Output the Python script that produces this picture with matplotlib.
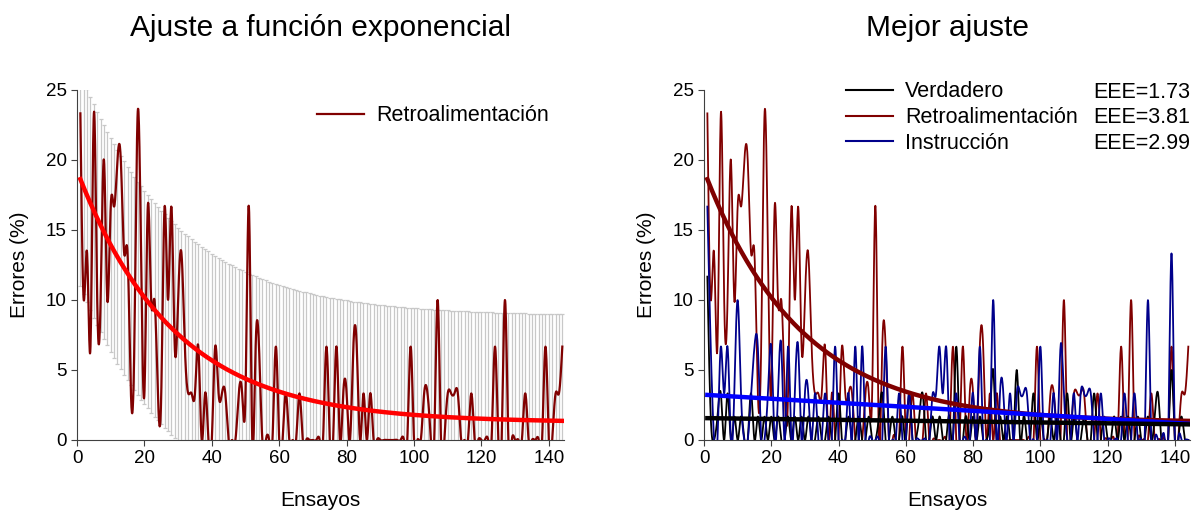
import numpy as np
import matplotlib
matplotlib.use("Agg")
import matplotlib.pyplot as plt
from matplotlib.lines import Line2D

plt.rcParams['font.family'] = ['Liberation Sans', 'DejaVu Sans']

# ensayos 1..144
trials = np.arange(1, 145)

# errores (%) por ensayo
retro = [23.33, 10, 13.33, 6.67, 23.33, 10, 10, 20, 10, 16.67,
         16.67, 20, 20, 13.33, 13.33, 3.33, 6.67, 23.33, 13.33, 3.33,
         16.67, 10, 10, 3.33, 3.33, 16.67, 10, 16.67, 6.67, 10,
         13.33, 6.67, 3.33, 3.33, 3.33, 6.67, 0, 3.33, 0, 0,
         6.67, 3.33, 3.33, 3.33, 0, 0, 0, 3.33, 3.33, 3.33,
         16.67, 0, 6.67, 6.67, 0, 0, 0, 0, 6.67, 0,
         0, 3.33, 0, 0, 0, 3.33, 0, 0, 0, 0,
         0, 0, 0, 6.67, 0, 0, 6.67, 0, 3.33, 3.33,
         0, 6.67, 6.67, 0, 3.33, 0, 3.33, 0, 0, 0,
         0, 0, 0, 0, 0, 0, 0, 0, 6.67, 0,
         0, 0, 3.33, 3.33, 0, 0, 10, 0, 0, 3.33,
         3.33, 3.33, 3.33, 0, 0, 0, 3.33, 0, 0, 0,
         0, 0, 0, 6.67, 0, 0, 10, 0, 0, 0,
         0, 0, 3.33, 0, 0, 0, 0, 0, 6.67, 0,
         0, 3.33, 3.33, 6.67]

instruccion = [16.67, 6.67, 0, 0, 6.67, 3.33, 6.67, 0, 3.33, 10,
               3.33, 0, 0, 3.33, 6.67, 6.67, 0, 0, 3.33, 6.67,
               0, 3.33, 6.67, 0, 6.67, 0, 3.33, 6.67, 0, 3.33,
               3.33, 0, 3.33, 0, 0, 3.33, 0, 0, 6.67, 0,
               0, 0, 3.33, 0, 6.67, 0, 6.67, 0, 0, 0,
               0, 0, 0, 6.67, 0, 0, 0, 3.33, 0, 0,
               3.33, 0, 0, 0, 0, 0, 0, 3.33, 3.33, 6.67,
               3.33, 6.67, 0, 0, 3.33, 0, 0, 0, 0, 3.33,
               0, 6.67, 0, 0, 0, 10, 0, 3.33, 3.33, 0,
               3.33, 0, 3.33, 3.33, 3.33, 3.33, 0, 0, 0, 6.67,
               0, 0, 0, 3.33, 0, 6.67, 3.33, 0, 0, 3.33,
               0, 3.33, 3.33, 3.33, 3.33, 0, 0, 3.33, 0, 0,
               0, 0, 0, 0, 3.33, 0, 0, 3.33, 0, 0,
               0, 10, 0, 0, 0, 0, 0, 0, 13.33, 0,
               0, 0, 0, 0]

verdadero = [11.67, 1.67, 0, 1.67, 3.33, 0, 3.33, 0, 1.67, 0,
             1.67, 0, 0, 3.33, 0, 1.67, 0, 1.67, 0, 1.67,
             0, 1.67, 0, 0, 1.67, 0, 1.67, 0, 1.67, 0,
             1.67, 0, 0, 1.67, 0, 0, 1.67, 0, 0, 3.33,
             0, 0, 1.67, 0, 0, 1.67, 0, 0, 1.67, 0,
             0, 1.67, 3.33, 0, 0, 1.67, 0, 0, 1.67, 0,
             3.33, 0, 0, 1.67, 3.33, 0, 0, 1.67, 0, 1.67,
             0, 0, 1.67, 0, 6.67, 0, 0, 1.67, 0, 1.67,
             0, 1.67, 0, 0, 1.67, 5, 0, 1.67, 0, 1.67,
             0, 0, 5, 0, 1.67, 0, 0, 3.33, 0, 1.67,
             0, 0, 1.67, 0, 1.67, 0, 0, 3.33, 0, 1.67,
             0, 0, 1.67, 0, 0, 3.33, 0, 0, 1.67, 0,
             0, 1.67, 0, 1.67, 0, 1.67, 0, 0, 1.67, 0,
             0, 1.67, 0, 1.67, 3.33, 0, 0, 0, 5, 0,
             0, 1.67, 0, 0]

# parametros de ajuste
exp_a, exp_b, exp_c = 18.0, 0.035, 1.25      # retro: a*exp(-b*x)+c
instr_int, instr_slope = 3.22, -0.0144       # instruccion: lineal
verd_int, verd_slope = 1.56, -0.0031         # verdadero: lineal
eee = {'Verdadero': 1.73, 'Retroalimentación': 3.81, 'Instrucción': 2.99}


def natural_spline(x, y, xs):
    x = np.asarray(x, float)
    y = np.asarray(y, float)
    n = len(x)
    h = np.diff(x)
    A = np.zeros((n, n))
    r = np.zeros(n)
    A[0, 0] = 1
    A[-1, -1] = 1
    for i in range(1, n - 1):
        A[i, i - 1] = h[i - 1]
        A[i, i] = 2 * (h[i - 1] + h[i])
        A[i, i + 1] = h[i]
        r[i] = 3 * ((y[i + 1] - y[i]) / h[i] - (y[i] - y[i - 1]) / h[i - 1])
    c = np.linalg.solve(A, r)
    b = (y[1:] - y[:-1]) / h - h * (2 * c[:-1] + c[1:]) / 3
    d = (c[1:] - c[:-1]) / (3 * h)
    idx = np.clip(np.searchsorted(x, xs) - 1, 0, n - 2)
    dx = xs - x[idx]
    return y[idx] + b[idx] * dx + c[idx] * dx ** 2 + d[idx] * dx ** 3


xs = np.linspace(1, 144, 2000)
retro_s = natural_spline(trials, retro, xs)
instr_s = natural_spline(trials, instruccion, xs)
verd_s = natural_spline(trials, verdadero, xs)

fit_exp = exp_a * np.exp(-exp_b * xs) + exp_c
fit_exp_pts = exp_a * np.exp(-exp_b * trials) + exp_c
fit_instr = instr_int + instr_slope * (xs - 1)
fit_verd = verd_int + verd_slope * (xs - 1)

W, H = 1198, 515
fig = plt.figure(figsize=(W / 100, H / 100), dpi=100)
ax1 = fig.add_axes([77 / W, 75 / H, 487 / W, 350 / H])
ax2 = fig.add_axes([704 / W, 75 / H, 486 / W, 350 / H])

DARKRED = '#800000'
FS_LEG = 15.5

# panel izquierdo
ax1.errorbar(trials, fit_exp_pts, yerr=2 * eee['Retroalimentación'], fmt='none',
             ecolor='#c8c8c8', elinewidth=0.9, capsize=1.5, capthick=0.9, zorder=1)
ax1.plot(xs, retro_s, color=DARKRED, lw=1.6, zorder=3, label='Retroalimentación')
ax1.plot(xs, fit_exp, color='#ff0000', lw=3.2, zorder=4)
ax1.legend(loc='upper right', bbox_to_anchor=(1.0, 1.0), frameon=False,
           fontsize=FS_LEG, handlelength=2.2, handletextpad=0.55, borderaxespad=0.3)
ax1.set_title('Ajuste a función exponencial', fontsize=21.5, pad=39)

# panel derecho
ax2.plot(xs, verd_s, color='black', lw=1.3, zorder=3)
ax2.plot(xs, retro_s, color=DARKRED, lw=1.3, zorder=2)
ax2.plot(xs, instr_s, color='#00008b', lw=1.3, zorder=3)
ax2.plot(xs, fit_exp, color=DARKRED, lw=3.2, zorder=4)
ax2.plot(xs, fit_instr, color='#0000ff', lw=3.2, zorder=5)
ax2.plot(xs, fit_verd, color='black', lw=3.2, zorder=5)
handles = [Line2D([], [], color='black', lw=1.5),
           Line2D([], [], color=DARKRED, lw=1.5),
           Line2D([], [], color='#00008b', lw=1.5)]
ax2.legend(handles, list(eee.keys()), loc='upper left', bbox_to_anchor=(0.274, 1.05),
           frameon=False, fontsize=FS_LEG, handlelength=2.2, handletextpad=0.55,
           labelspacing=0.23, borderaxespad=0)
for k, (name, v) in enumerate(eee.items()):
    ax2.text(1.0, 0.994 - k * 0.074, 'EEE=%.2f' % v, transform=ax2.transAxes,
             ha='right', va='center', fontsize=FS_LEG)
ax2.set_title('Mejor ajuste', fontsize=21.5, pad=39)

for ax in (ax1, ax2):
    ax.set_xlim(0, 144.5)
    ax.set_ylim(0, 25)
    ax.set_xticks(range(0, 141, 20))
    ax.set_yticks(range(0, 26, 5))
    ax.spines['top'].set_visible(False)
    ax.spines['right'].set_visible(False)
    for s in ('left', 'bottom'):
        ax.spines[s].set_color('#404040')
    ax.tick_params(direction='out', length=4, labelsize=13.5, color='#404040')
    ax.set_xlabel('Ensayos', fontsize=15, labelpad=17)
    ax.set_ylabel('Errores (%)', fontsize=15, labelpad=12)

fig.savefig('out.png', dpi=100)
